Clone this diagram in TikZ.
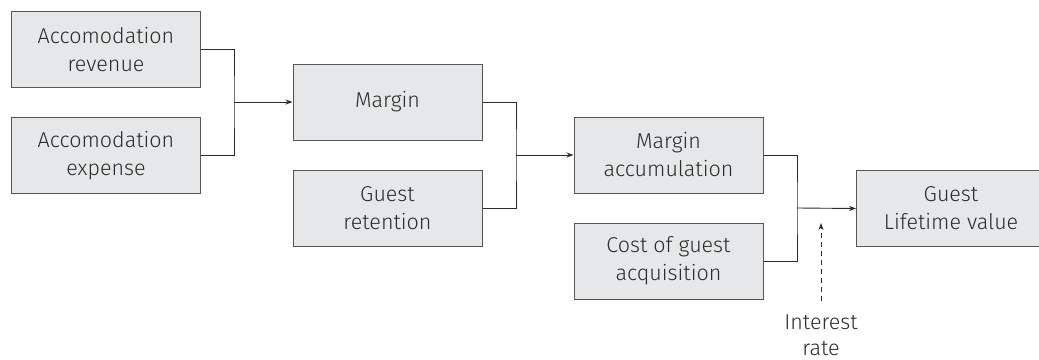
\documentclass[tikz,border=0pt]{standalone}
\usepackage{fontspec}
\setmainfont{Fira Sans Light}
\usetikzlibrary{arrows.meta}
\definecolor{boxfill}{HTML}{E6E7E8}
\definecolor{boxline}{HTML}{555555}
\definecolor{ink}{HTML}{2B2B2B}
\begin{document}
\begin{tikzpicture}[x=1pt,y=-1pt,
  stage/.style={draw=boxline, fill=boxfill, line width=1pt, minimum width=189pt,
    minimum height=76pt, inner sep=0pt, align=center, text=ink,
    font=\fontsize{21.5}{28}\selectfont},
  link/.style={draw=ink, line width=0.9pt},
  flow/.style={link, -{Stealth[length=7pt,width=5pt]}},
  note/.style={align=center, text=ink, font=\fontsize{21.5}{26}\selectfont}]
\useasboundingbox (0,0) rectangle (1039,359);
% boxes of the value chain
\node[stage] (rev) at (106,49.5) {Accomodation\\revenue};
\node[stage] (exp) at (106,155.5) {Accomodation\\expense};
\node[stage] (mar) at (387.5,102) {Margin};
\node[stage] (ret) at (387.5,208) {Guest\\retention};
\node[stage] (acc) at (668.5,155) {Margin\\accumulation};
\node[stage] (cost) at (668.5,261) {Cost of guest\\acquisition};
\node[stage] (clv) at (951,208.5) {Guest\\Lifetime value};
\node[note] (rate) at (821,335) {Interest\\rate};
% junction points
\coordinate (j1) at (234,102);
\coordinate (j2) at (516,155);
\coordinate (j3) at (797,208);
\coordinate (tip) at (821,223);
% connectors
\draw[link] (rev.east) -| (j1) |- (exp.east);
\draw[flow] (j1) -- (mar.west);
\draw[link] (mar.east) -| (j2) |- (ret.east);
\draw[flow] (j2) -- (acc.west);
\draw[link] (acc.east) -| (j3) |- (cost.east);
\draw[flow] (j3) -- (clv.west);
\draw[link, dash pattern=on 5pt off 4pt, -{Stealth[length=7pt,width=5pt]}]
  (rate.north |- 0,301) -- (tip);
\end{tikzpicture}
\end{document}
